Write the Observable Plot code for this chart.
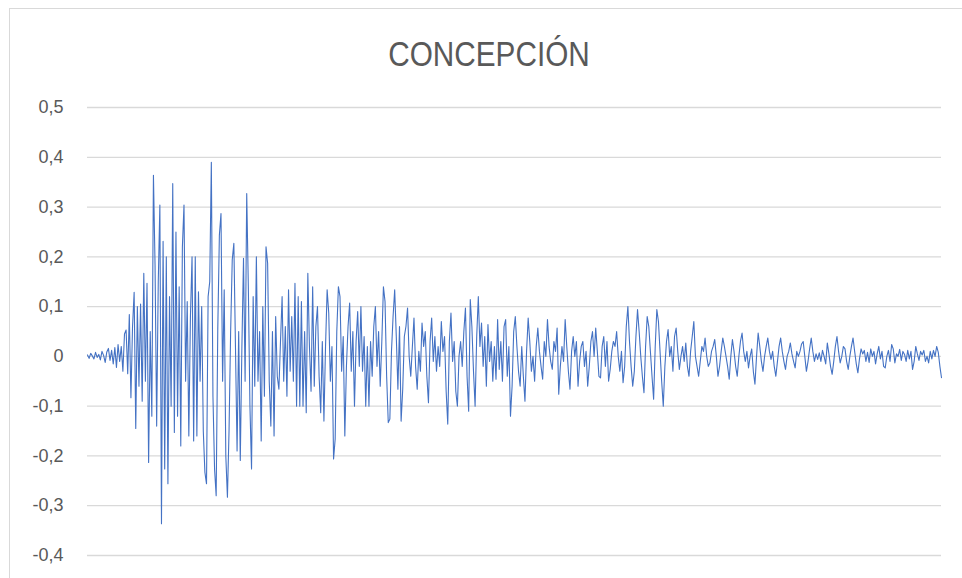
<!DOCTYPE html>
<html>
<head>
<meta charset="utf-8">
<script src="https://cdn.jsdelivr.net/npm/d3@7"></script>
<script src="https://cdn.jsdelivr.net/npm/@observablehq/plot@0.6"></script>
<style>
  html, body { margin: 0; padding: 0; background: #fff; overflow: hidden; }
  #wrap { position: relative; width: 962px; height: 578px; overflow: hidden; }
  #frame { position: absolute; left: 9px; top: 8px; width: 1000px; height: 1000px; border-left: 1px solid #d9d9d9; border-top: 1px solid #d9d9d9; }
  #title { position: absolute; left: 9px; width: 960px; top: 37px; text-align: center;
           font-family: "Liberation Sans", sans-serif; font-size: 35px; line-height: 34px; color: #595959;
           transform: scaleX(0.85); transform-origin: 480px 50%; }
  #chart { position: absolute; left: 0; top: 0; }
  #chart svg { font-family: "Liberation Sans", sans-serif; }
</style>
</head>
<body>
<div id="wrap">
  <div id="frame"></div>
  <div id="title">CONCEPCIÓN</div>
  <div id="chart"></div>
</div>
<script>
// Y axis ticks and labels (comma decimals as in the reference)
const yTicks = [-0.4, -0.3, -0.2, -0.1, 0, 0.1, 0.2, 0.3, 0.4, 0.5];
const yLabels = ["-0,4", "-0,3", "-0,2", "-0,1", "0", "0,1", "0,2", "0,3", "0,4", "0,5"];

// Acceleration record in consecutive segments
const preEvent = [0.003,-0.004,0.006,0.001,-0.005,0.008,-0.002,0.004,-0.007,0.01,0.002,-0.012,0.009,0.016,-0.008,0.012,-0.015,0.018,-0.022,0.024,-0.01];
const onset = [0.02,-0.03,0.045,0.053,-0.035,0.084,-0.083,0.06,0.129,-0.145,
  0.10,-0.06,0.105,-0.09,0.167,-0.05,0.147,-0.213,0.05,-0.12,
  0.364,0.184,-0.14,0.15,0.304,-0.336,0.231,-0.226,0.2,-0.256,
  0.12,-0.1,0.347,-0.153,0.25,-0.12,0.14,-0.18,0.22,0.304,
  -0.05,0.11,-0.16,0.08,0.2,-0.17,0.2,-0.16,0.13,-0.05];
const strong = [0.1,-0.15,-0.233,-0.256,0.12,0.15,0.39,-0.08,-0.226,-0.28,
  0.054,0.244,0.287,-0.05,0.134,-0.2,-0.283,-0.15,0.05,0.194,
  0.227,0.02,-0.19,0.05,-0.209,0.02,0.197,-0.05,0.327,0.14,
  -0.1,-0.226,0.12,-0.06,0.2,-0.05,0.05,-0.17,0.1,-0.08,
  0.22,0.187,-0.05,-0.14,0.05,-0.16,0.08,-0.04,-0.066,0.03,
  0.12,-0.05,0.06,-0.08,0.134,-0.03,0.08,-0.05,0.147,-0.1,
  0.12,-0.1];
const decayA = [0.11,-0.1,0.05,-0.113,0.167,0.02,-0.07,0.14,-0.06,0.06,
  0.1,-0.04,-0.113,0.03,-0.13,0.02,0.134,0.087,-0.05,0.02,
  -0.206,-0.166,0.05,0.14,0.12,-0.03,0.04,-0.16,-0.02,0.06,
  0.107,-0.03,0.05,-0.1,0.03,0.09,-0.02,0.1,-0.03,0.04,
  -0.1,0.02,-0.1,0.03,-0.04,0.06,0.1,-0.02,0.05,-0.06,
  0.03,0.14,0.11,-0.04,-0.133,-0.126,0.01,0.08,0.134,0.04,
  -0.066,0.06];
const decayB = [-0.13,-0.066,0.04,0.06,0.097,0.0,-0.04,0.02,0.077,-0.02,
  -0.066,0.01,-0.03,0.067,0.02,0.05,-0.04,-0.093,0.03,0.077,
  -0.01,0.04,-0.03,0.02,-0.02,0.07,0.01,0.04,-0.07,-0.136,
  0.03,0.087,-0.01,0.03,-0.07,-0.1,0.0,0.03,-0.02,0.05,
  0.097,-0.04,-0.11,0.114,0.06,-0.03,-0.1,0.04,0.12,0.02,
  0.067,-0.02,0.04,-0.06,0.064,-0.01,0.03,-0.05,0.02,-0.046,
  0.074,-0.026];
const codaA = [0.03,-0.05,0.06,0.074,-0.04,0.02,-0.12,-0.06,0.05,0.08,
  0.02,-0.03,-0.06,0.02,-0.04,-0.09,0.01,0.077,0.03,-0.03,
  0.0,-0.05,0.02,0.057,0.01,-0.02,-0.046,0.03,0.0,0.074,
  0.02,-0.01,-0.026,0.03,0.01,0.057,-0.076,-0.02,0.02,-0.01,
  0.074,0.02,-0.03,-0.066,0.01,0.04,0.0,0.03,-0.06,-0.01,
  0.02,0.03,-0.02,0.01,-0.06,-0.02,0.03,0.05,0.0,0.057,
  0.01,-0.04];
const codaB = [-0.043,0.02,0.04,-0.02,0.03,-0.05,-0.026,0.01,0.03,0.02,
  0.05,0.0,-0.03,0.01,-0.053,-0.02,0.06,0.1,0.03,-0.02,
  -0.06,-0.03,0.04,0.094,0.05,0.0,-0.04,-0.073,0.02,0.08,
  0.06,0.01,-0.04,-0.086,0.02,0.094,0.07,0.01,-0.05,-0.1,
  -0.02,0.03,0.054,0.0,0.02,-0.03,0.04,0.057,0.01,-0.026,
  0.0,0.02,-0.01,0.027,-0.02,-0.04,0.01,0.04,0.07,0.0,
  -0.02,-0.04];
const codaC = [-0.01,0.02,0.01,0.037,0.0,-0.02,-0.013,0.01,0.02,0.034,
  0.0,-0.04,-0.02,0.01,0.037,0.02,0.0,-0.02,-0.046,0.0,
  0.034,0.01,-0.02,-0.04,0.0,0.03,0.047,0.01,-0.01,0.01,
  -0.023,0.0,0.015,-0.03,-0.056,0.0,0.047,0.02,-0.01,-0.03,
  0.0,0.02,0.037,0.01,-0.006,0.01,-0.02,-0.04,-0.01,0.02,
  0.037,0.01,-0.01,-0.026,0.0,0.01,0.027,0.005,-0.01,-0.023,
  0.01,0.0];
const tail = [0.01,0.025,0.03,0.0,-0.03,-0.01,0.015,0.037,0.01,-0.01,
  0.005,-0.006,0.007,-0.01,0.012,0.0,-0.015,0.027,0.005,-0.02,
  -0.036,-0.01,0.02,0.04,0.01,-0.013,0.0,0.02,0.015,-0.01,
  -0.026,0.0,0.02,0.037,0.01,-0.015,-0.033,-0.005,0.015,0.005,
  0.012,-0.01,0.008,-0.012,0.015,0.0,0.01,-0.015,0.005,0.02,
  -0.005,0.01,-0.02,-0.023,0.0,0.012,-0.01,0.024,0.015,-0.013,
  0.005,0.0,0.014,-0.008,0.01,0.004,-0.01,0.012,-0.005,0.01,
  -0.026,-0.01,0.02,0.005,-0.008,0.01,0.003,0.012,-0.01,0.0,
  -0.013,0.01,-0.005,0.012,0.0,0.02,0.008,-0.02,-0.043];

const series = [].concat(preEvent, onset, strong, decayA, decayB, codaA, codaB, codaC, tail);
const data = series.map((v, i) => ({i, v}));
const labelFor = new Map(yTicks.map((t, k) => [t, yLabels[k]]));

const chart = Plot.plot({
  width: 962,
  height: 578,
  marginLeft: 87,
  marginRight: 21,
  marginTop: 107,
  marginBottom: 23,
  style: {background: "transparent", fontSize: "18px", color: "#595959"},
  x: {domain: [0, series.length - 1], axis: null},
  y: {domain: [-0.4, 0.5], ticks: yTicks, tickFormat: d => labelFor.get(d), tickSize: 0, tickPadding: 24, label: null},
  marks: [
    Plot.ruleY(yTicks, {stroke: "#d9d9d9", strokeWidth: 1.3}),
    Plot.lineY(data, {x: "i", y: "v", stroke: "#4472C4", strokeWidth: 1.1})
  ]
});
document.getElementById("chart").appendChild(chart);
</script>
</body>
</html>
